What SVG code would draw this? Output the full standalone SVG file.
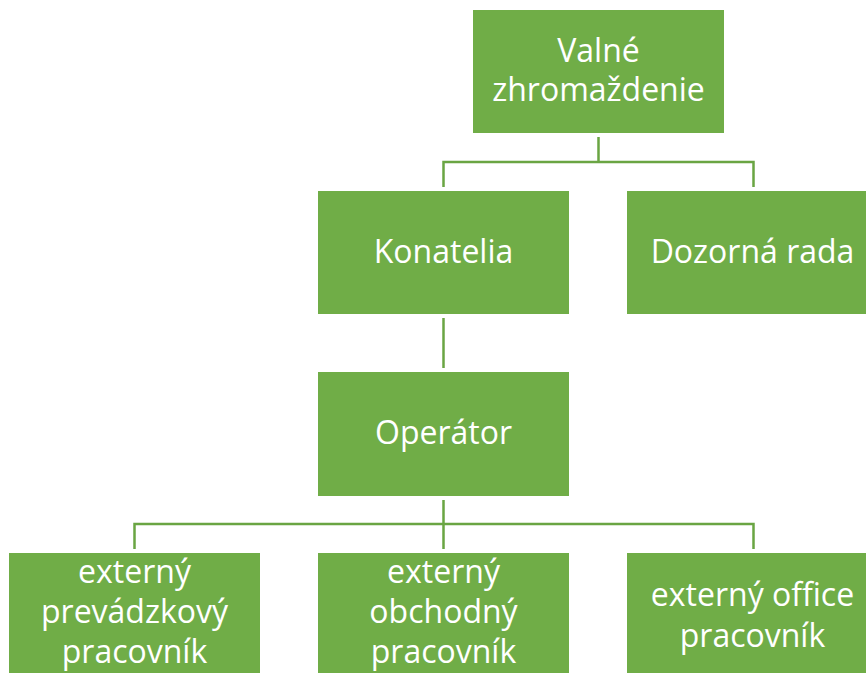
<svg xmlns="http://www.w3.org/2000/svg" width="866" height="673" viewBox="0 0 866 673">
<style>
.box{fill:#70AD47;}
.lbl{font-family:"Open Sans","Noto Sans",sans-serif;font-size:32px;fill:#ffffff;text-anchor:middle;}
.conn{stroke:#6AA543;stroke-width:2.5;fill:none;}
</style>
<rect width="866" height="673" fill="#ffffff"/>
<g id="connectors">
<path class="conn" d="M598.5,137 V162 M443.5,187 V162 H753.5 V187"/>
<path class="conn" d="M443.5,318 V368"/>
<path class="conn" d="M443.5,500 V549 M134.5,549 V524 H753.5 V549"/>
</g>
<g id="valne">
<rect class="box" x="473" y="10" width="251" height="123"/>
<text class="lbl" x="598.5" y="62">Valné</text>
<text class="lbl" x="598.5" y="101">zhromaždenie</text>
</g>
<g id="konatelia">
<rect class="box" x="318" y="191" width="251" height="123"/>
<text class="lbl" x="443.5" y="263">Konatelia</text>
</g>
<g id="dozorna">
<rect class="box" x="627" y="191" width="251" height="123"/>
<text class="lbl" x="752.5" y="263">Dozorná rada</text>
</g>
<g id="operator">
<rect class="box" x="318" y="372" width="251" height="124"/>
<text class="lbl" x="443.5" y="444">Operátor</text>
</g>
<g id="prevadzkovy">
<rect class="box" x="9" y="553" width="251" height="123"/>
<text class="lbl" x="134.5" y="583">externý</text>
<text class="lbl" x="134.5" y="623">prevádzkový</text>
<text class="lbl" x="134.5" y="663">pracovník</text>
</g>
<g id="obchodny">
<rect class="box" x="318" y="553" width="251" height="123"/>
<text class="lbl" x="443.5" y="583">externý</text>
<text class="lbl" x="443.5" y="623">obchodný</text>
<text class="lbl" x="443.5" y="663">pracovník</text>
</g>
<g id="office">
<rect class="box" x="627" y="553" width="251" height="123"/>
<text class="lbl" x="752.5" y="606">externý office</text>
<text class="lbl" x="752.5" y="647">pracovník</text>
</g>
</svg>
